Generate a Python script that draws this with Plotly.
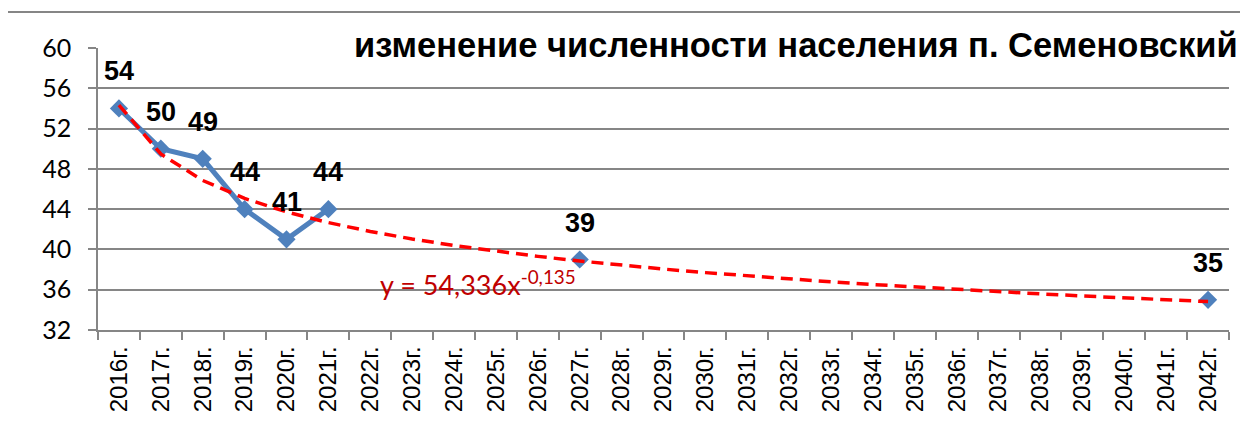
import plotly.graph_objects as go

# ---- data ----
years = [f"{y}г." for y in range(2016, 2043)]
pop_years = ["2016г.", "2017г.", "2018г.", "2019г.", "2020г.", "2021г.", "2027г.", "2042г."]
pop_values = [54, 50, 49, 44, 41, 44, 39, 35]
trend_a = 54.336
trend_b = -0.135
title_text = "изменение численности населения п. Семеновский"
equation_text = "y = 54,336x<sup>-0,135</sup>"
y_ticks = [32, 36, 40, 44, 48, 52, 56, 60]

# full series on the category axis (gaps where no data)
value_map = dict(zip(pop_years, pop_values))
series = [value_map.get(y) for y in years]
trend = [trend_a * (i + 1) ** trend_b for i in range(len(years))]

GRID = "#868686"
BLUE = "#4F81BD"

fig = go.Figure()
fig.add_trace(go.Scatter(
    x=years, y=series, mode="lines+markers", connectgaps=False,
    line=dict(color=BLUE, width=5),
    marker=dict(symbol="diamond", size=14, color=BLUE),
    showlegend=False,
))
fig.add_trace(go.Scatter(
    x=years, y=trend, mode="lines",
    line=dict(color="#FF0000", width=3.5, dash="12px,7px"),
    hoverinfo="skip", showlegend=False,
))

for yr, v in zip(pop_years, pop_values):
    fig.add_annotation(x=yr, y=v, text=f"<b>{v}</b>", showarrow=False, yshift=37,
                       font=dict(family="Liberation Sans", size=27, color="black"),
                       xanchor="center", yanchor="middle")

fig.add_annotation(xref="paper", yref="paper", x=1.0097, y=1.01, text=f"<b>{title_text}</b>",
                   showarrow=False, xanchor="right", yanchor="middle",
                   font=dict(family="Liberation Sans", size=34.5, color="black"))

fig.add_annotation(xref="paper", yref="y", x=0.2476, y=36.7, text=equation_text,
                   showarrow=False, xanchor="left", yanchor="middle",
                   font=dict(family="Lato", size=27, color="#C00000"))

# outer chart border (continues past the visible edges)
fig.add_shape(type="rect", xref="paper", yref="paper",
              x0=-0.0805, x1=1.2, y0=-0.6, y1=1.1277,
              line=dict(color=GRID, width=2), fillcolor="rgba(0,0,0,0)", layer="below")

# page body has an 8px default margin, so the figure is 8px smaller on each axis
fig.update_layout(
    width=1240, height=413,
    margin=dict(l=90, r=19, t=40, b=91, autoexpand=False),
    paper_bgcolor="white", plot_bgcolor="white",
    showlegend=False,
)
fig.update_xaxes(
    type="category", categoryorder="array", categoryarray=years,
    range=[-0.5, len(years) - 0.5], automargin=False,
    tickson="boundaries", ticks="outside", ticklen=8, tickcolor=GRID, tickwidth=1.5,
    showgrid=False, showline=True, linecolor=GRID, linewidth=1.5,
    tickangle=-90, tickfont=dict(family="Liberation Sans", size=24, color="black"),
    ticklabelstandoff=5, zeroline=False,
)
fig.update_yaxes(
    range=[32, 60], tickvals=y_ticks, automargin=False,
    ticks="outside", ticklen=8, tickcolor=GRID, tickwidth=1.5,
    showgrid=True, gridcolor=GRID, gridwidth=1.5,
    showline=True, linecolor=GRID, linewidth=1.5,
    tickfont=dict(family="Lato", size=25, color="black"),
    ticklabelstandoff=12, zeroline=False,
)

fig.write_html("out.html")
